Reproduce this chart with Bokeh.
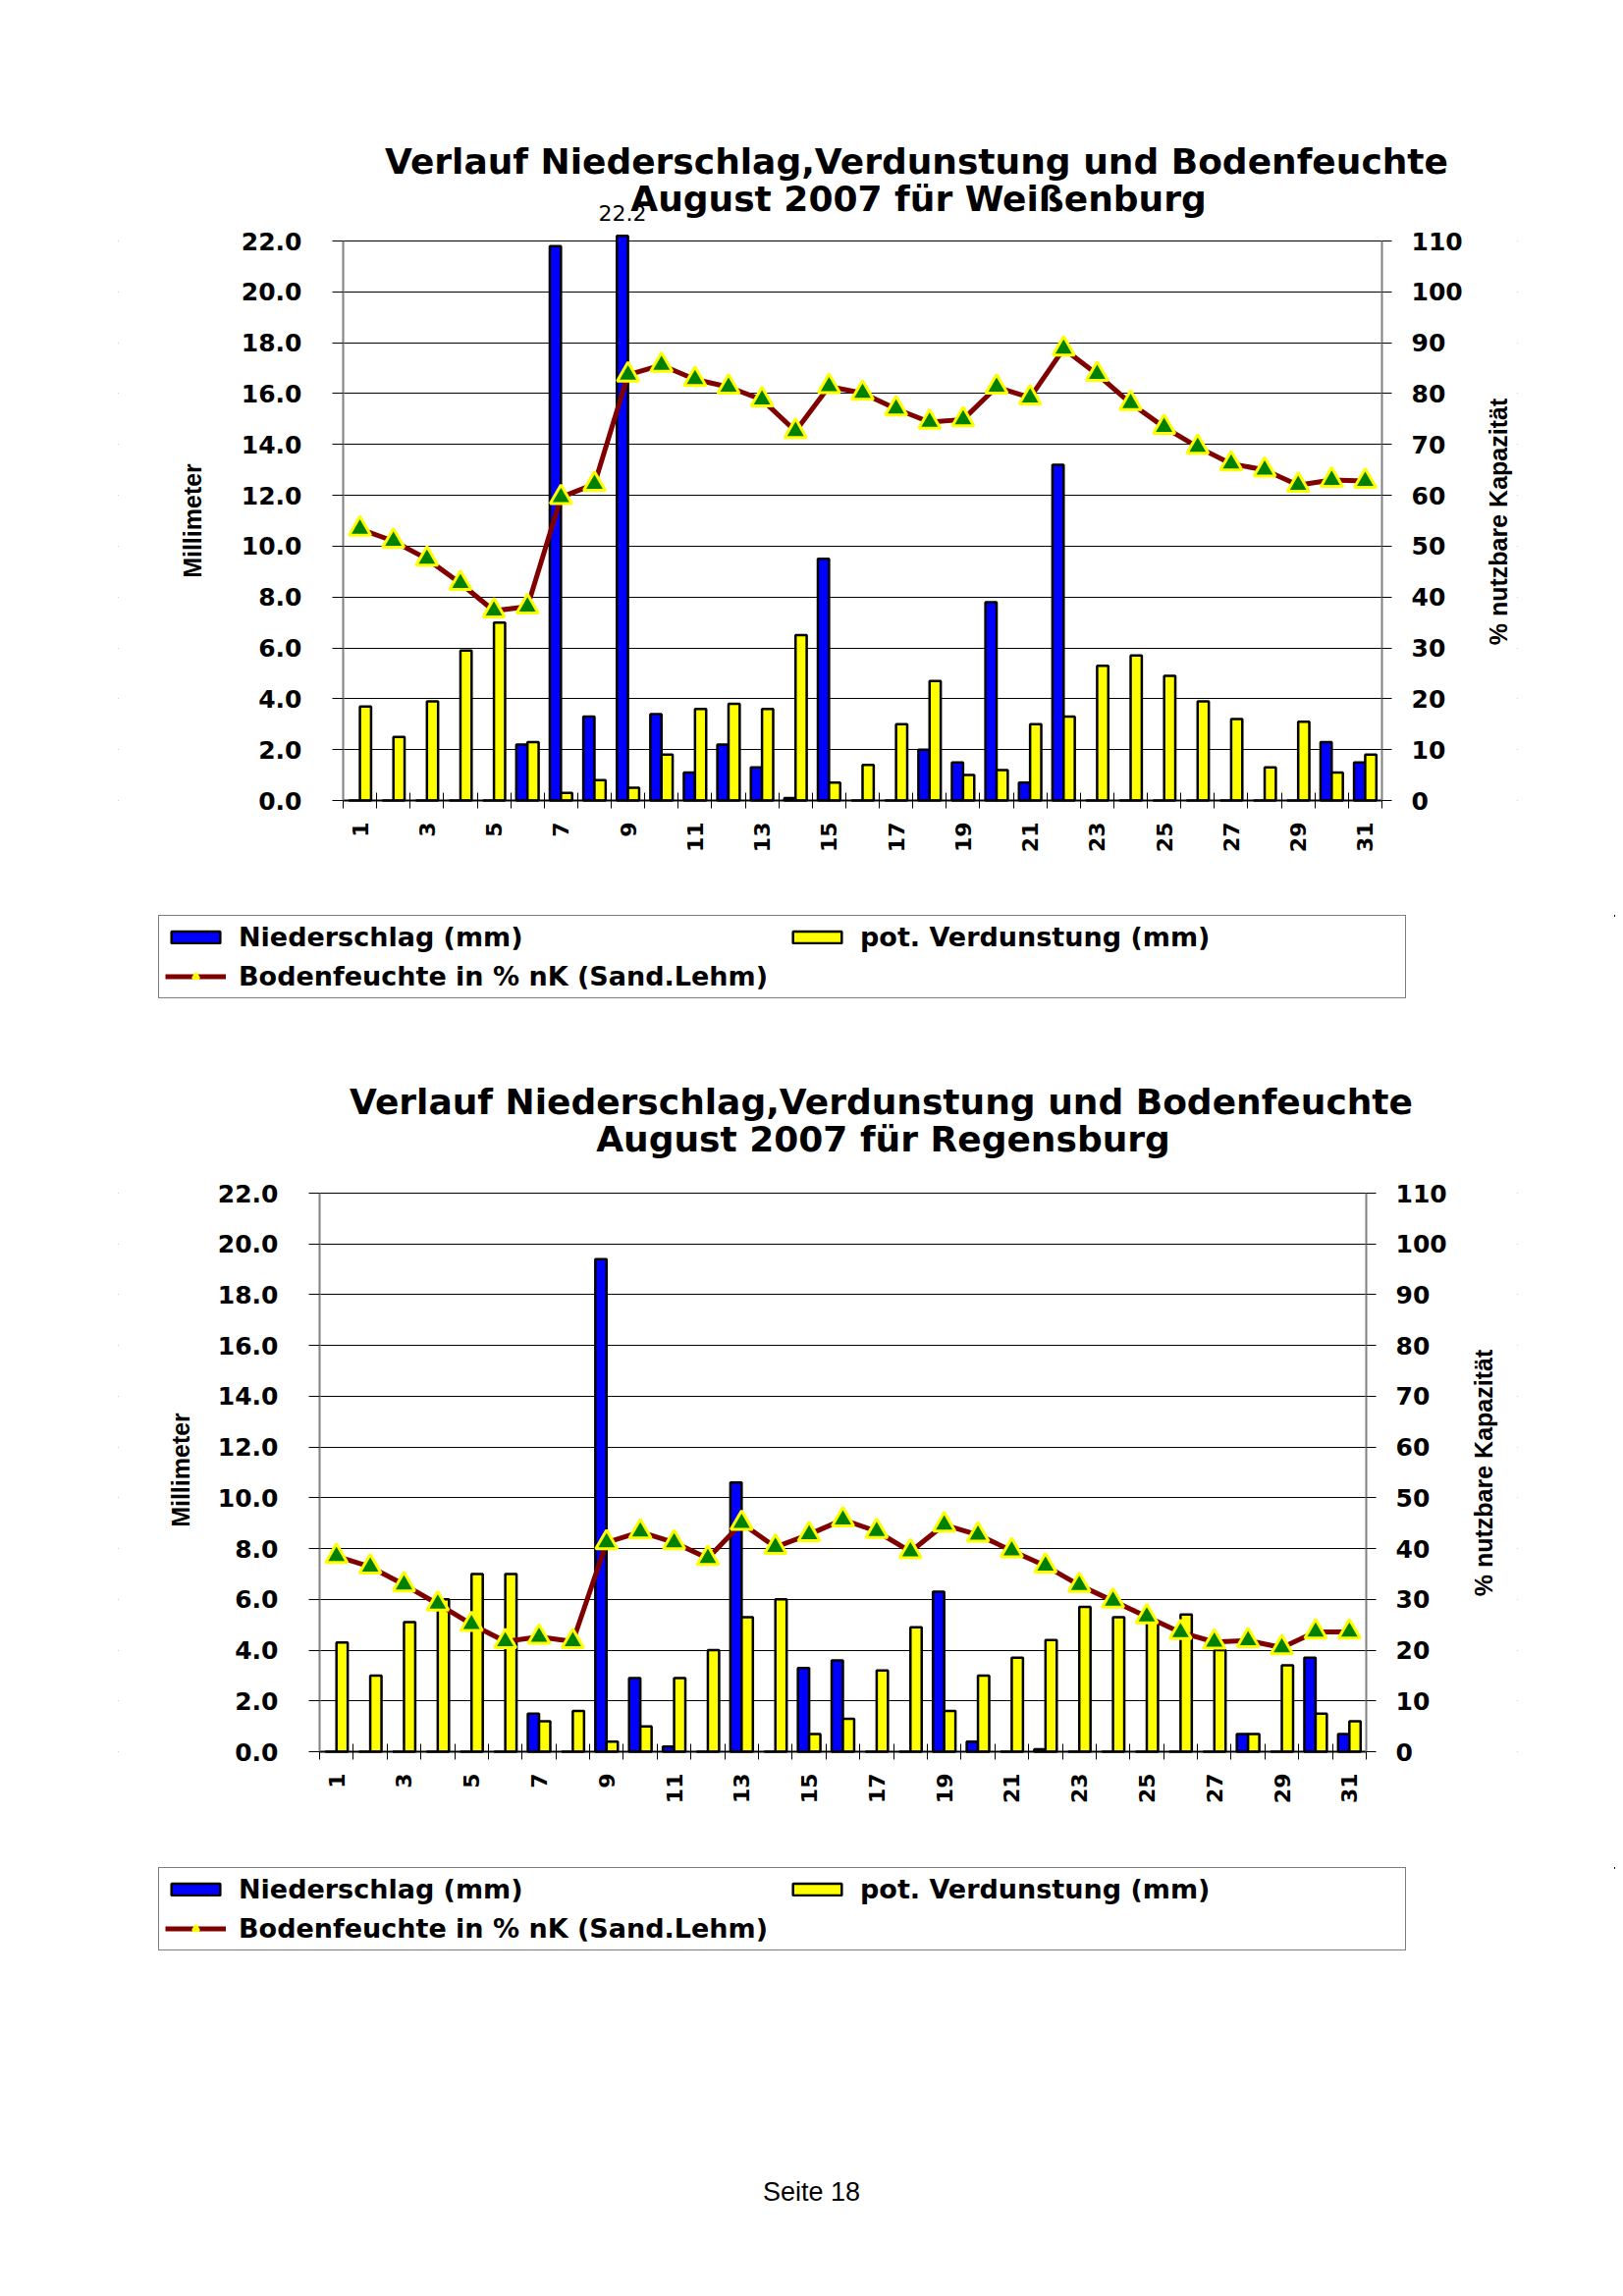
import math
from bokeh.plotting import figure
from bokeh.models import (Range1d, LinearAxis, FixedTicker, PrintfTickFormatter, Label,
                          Legend, LegendItem, ColumnDataSource, BoxAnnotation)
from bokeh.transform import dodge
from bokeh.embed import file_html
from bokeh.resources import INLINE

# ---------------- data ----------------
days = list(range(1, 32))
x_tick_days = [d for d in days if d % 2 == 1]
mm_ticks = [0, 2, 4, 6, 8, 10, 12, 14, 16, 18, 20, 22]
pct_ticks = [0, 10, 20, 30, 40, 50, 60, 70, 80, 90, 100, 110]

title_line1 = "Verlauf Niederschlag,Verdunstung und Bodenfeuchte"
wb_title2 = "August 2007 für Weißenburg"
rg_title2 = "August 2007 für Regensburg"
left_label = "Millimeter"
right_label = "% nutzbare Kapazität"
lab_nieder = "Niederschlag (mm)"
lab_verd = "pot. Verdunstung (mm)"
lab_boden = "Bodenfeuchte in % nK (Sand.Lehm)"
footer = "Seite 18"

wb_nieder = [0, 0, 0, 0, 0, 2.2, 21.8, 3.3, 22.2, 3.4, 1.1, 2.2, 1.3, 0.1, 9.5, 0,
             0, 2.0, 1.5, 7.8, 0.7, 13.2, 0, 0, 0, 0, 0, 0, 0, 2.3, 1.5]
wb_verd = [3.7, 2.5, 3.9, 5.9, 7.0, 2.3, 0.3, 0.8, 0.5, 1.8, 3.6, 3.8, 3.6, 6.5, 0.7, 1.4,
           3.0, 4.7, 1.0, 1.2, 3.0, 3.3, 5.3, 5.7, 4.9, 3.9, 3.2, 1.3, 3.1, 1.1, 1.8]
wb_boden = [53.4, 51.0, 47.5, 42.7, 37.3, 38.1, 59.6, 62.2, 83.7, 85.6, 82.8, 81.3, 78.8,
            72.6, 81.4, 80.1, 77.0, 74.4, 74.9, 81.3, 79.2, 88.8, 83.8, 78.1, 73.4, 69.5,
            66.2, 65.0, 62.0, 63.0, 62.8]

rg_nieder = [0, 0, 0, 0, 0, 0, 1.5, 0, 19.4, 2.9, 0.2, 0, 10.6, 0, 3.3, 3.6,
             0, 0, 6.3, 0.4, 0, 0.1, 0, 0, 0, 0, 0, 0.7, 0, 3.7, 0.7]
rg_verd = [4.3, 3.0, 5.1, 6.0, 7.0, 7.0, 1.2, 1.6, 0.4, 1.0, 2.9, 4.0, 5.3, 6.0, 0.7, 1.3,
           3.2, 4.9, 1.6, 3.0, 3.7, 4.4, 5.7, 5.3, 5.1, 5.4, 4.0, 0.7, 3.4, 1.5, 1.2]
rg_boden = [38.5, 36.4, 32.9, 29.1, 25.1, 21.7, 22.6, 21.7, 41.2, 43.3, 41.2, 38.1, 45.0,
            40.3, 42.8, 45.7, 43.4, 39.4, 44.7, 42.7, 39.6, 36.6, 32.8, 29.7, 26.6, 23.5,
            21.6, 21.9, 20.5, 23.6, 23.6]

BOLD_WIDE = "DejaVu Sans"
ARIAL = "Liberation Sans"
PAGE_W = 1645
X0, X1 = 0.5, 31.5
FRAME_L, FRAME_R = 120, 1545   # chart frames also hold axis numbers and axis titles

BAR_N = dict(fill_color="#0000FF", line_color="black", line_width=2.5)
BAR_V = dict(fill_color="#FFFF00", line_color="black", line_width=2.5)
LINE_B = dict(line_color="#800000", line_width=5)
MARK_B = dict(marker="triangle", size=22, fill_color="#008000", line_color="#FFFF00", line_width=3)


def chart_source(nieder, verd, boden):
    return ColumnDataSource(dict(day=days, nieder=nieder, verd=verd, boden=boden))


def strip(top, bottom):
    """A text-only strip of the page; its frame is the whole strip (1 px = 1 data unit)."""
    h = bottom - top
    return figure(width=PAGE_W, height=h, x_range=Range1d(0, PAGE_W), y_range=Range1d(0, h),
                  x_axis_type=None, y_axis_type=None, min_border=0, outline_line_color=None,
                  output_backend="svg", toolbar_location=None, tools="",
                  background_fill_color="white", border_fill_color="white")


def add_text(d, bottom, txt, px, py, **st):
    d.add_layout(Label(x=px, y=bottom - py, text=txt, **st))


TITLE_STYLE = dict(text_align="center", text_baseline="middle", text_font=BOLD_WIDE,
                   text_font_style="bold", text_font_size="36px", text_color="black")


def title_strip(top, bottom, line2, pos1, pos2, nieder=None, g=None):
    d = strip(top, bottom)
    add_text(d, bottom, title_line1, pos1[0], pos1[1], **TITLE_STYLE)
    add_text(d, bottom, line2, pos2[0], pos2[1], **TITLE_STYLE)
    if nieder is not None:
        ymax = mm_ticks[-1]
        for dd, v in zip(days, nieder):
            if v > ymax:  # data label for a bar that runs past the axis maximum
                px = g["frame_left"] + (dd - 1 / 6 - X0) / (X1 - X0) * g["frame_w"]
                add_text(d, bottom, "%.1f" % v, px, g["frame_top"] - 29,
                         text_align="center", text_baseline="middle",
                         text_font=BOLD_WIDE, text_font_size="22px", text_color="black")
    return d


def legend_strip(top, bottom, src, box_left, box_bottom, footer_pos=None):
    d = strip(top, bottom)
    # legend proxies: same styles as the chart, drawn on ranges that lie outside this strip
    d.extra_x_ranges = {"off": Range1d(-3000, -2000)}
    d.extra_y_ranges = {"off": Range1d(-3000, -2000)}
    off = dict(source=src, x_range_name="off", y_range_name="off")
    rn = d.vbar(x="day", top="nieder", width=1 / 3, **off, **BAR_N)
    rv = d.vbar(x="day", top="verd", width=1 / 3, **off, **BAR_V)
    rl = d.line(x="day", y="boden", **off, **LINE_B)
    rs = d.scatter(x="day", y="boden", **off, **MARK_B)
    legend = Legend(items=[LegendItem(label=lab_nieder, renderers=[rn]),
                           LegendItem(label=lab_boden, renderers=[rl, rs]),
                           LegendItem(label=lab_verd, renderers=[rv])],
                    location=(box_left, bottom - box_bottom), orientation="vertical", nrows=2,
                    border_line_color="black", border_line_width=1,
                    background_fill_color="white", background_fill_alpha=1.0,
                    padding=6, spacing=9, margin=0,
                    glyph_width=62, glyph_height=15, label_standoff=13,
                    label_width=549, label_height=28,
                    label_text_font=BOLD_WIDE, label_text_font_style="bold",
                    label_text_font_size="27px", label_text_color="black",
                    label_text_baseline="middle")
    d.add_layout(legend)
    if footer_pos:
        add_text(d, bottom, footer, footer_pos[0], footer_pos[1], text_align="center",
                 text_baseline="middle", text_font=ARIAL, text_font_size="27px",
                 text_color="black")
    return d


def make_chart(src, g):
    # g: plot-area geometry in page pixels
    fl, ft, fw, fh = g["frame_left"], g["frame_top"], g["frame_w"], g["frame_h"]
    fb = ft + fh
    top_ext, bot_ext = g["fig_top"], g["frame_bottom_ext"]
    dx = (X1 - X0) / fw
    dy = mm_ticks[-1] / fh
    ratio = pct_ticks[-1] / mm_ticks[-1]
    y0 = -(bot_ext - fb) * dy
    y1 = mm_ticks[-1] + (ft - top_ext) * dy
    p = figure(frame_width=FRAME_R - FRAME_L, frame_height=bot_ext - top_ext,
               min_border_left=FRAME_L, min_border_right=PAGE_W - FRAME_R,
               min_border_top=0, min_border_bottom=g["fig_bottom"] - bot_ext,
               x_range=Range1d(X0 - (fl - FRAME_L) * dx, X1 + (FRAME_R - fl - fw) * dx),
               y_range=Range1d(y0, y1),
               output_backend="svg", toolbar_location=None, tools="",
               background_fill_color="white", border_fill_color="white")
    p.extra_y_ranges = {"pct": Range1d(y0 * ratio, y1 * ratio)}
    p.outline_line_color = None

    p.xgrid.grid_line_color = None
    p.ygrid.ticker = FixedTicker(ticks=mm_ticks)
    p.ygrid.grid_line_color = "black"
    p.ygrid.grid_line_width = 1
    # blank the frame outside the plot area (under glyphs and axes)
    for kw in (dict(left=X1), dict(right=X0)):
        p.add_layout(BoxAnnotation(fill_color="white", fill_alpha=1.0, line_color=None,
                                   level="underlay", **kw))

    p.vbar(x=dodge("day", -1 / 6, range=p.x_range), top="nieder", width=1 / 3, source=src, **BAR_N)
    p.vbar(x=dodge("day", 1 / 6, range=p.x_range), top="verd", width=1 / 3, source=src, **BAR_V)
    p.line(x="day", y="boden", source=src, y_range_name="pct", **LINE_B)
    p.scatter(x="day", y="boden", source=src, y_range_name="pct", **MARK_B)

    # x axis at y = 0: odd day labels, tick marks on the category boundaries
    xa = p.xaxis[0]
    xa.fixed_location = 0
    xa.bounds = (X0, X1)
    xa.ticker = FixedTicker(ticks=x_tick_days, minor_ticks=[d + 0.5 for d in range(0, 32)])
    xa.major_tick_line_color = None
    xa.major_tick_out = 0
    xa.major_tick_in = 0
    xa.minor_tick_line_color = "black"
    xa.minor_tick_in = 8
    xa.minor_tick_out = 8
    xa.major_label_orientation = math.pi / 2
    xa.major_label_standoff = 14
    xa.major_label_text_font = BOLD_WIDE
    xa.major_label_text_font_style = "bold"
    xa.major_label_text_font_size = "22px"
    xa.major_label_text_color = "black"
    xa.axis_line_color = "black"
    xa.axis_line_width = 2

    # left axis at the left edge of the plot area
    ya = p.yaxis[0]
    ya.fixed_location = X0
    ya.bounds = (0, mm_ticks[-1])
    ya.ticker = FixedTicker(ticks=mm_ticks)
    ya.formatter = PrintfTickFormatter(format="%.1f")
    ya.major_tick_out = 11
    ya.major_tick_in = 0
    ya.major_tick_line_color = "black"
    ya.minor_tick_line_color = None
    ya.axis_line_color = "#808080"
    ya.axis_line_width = 2
    ya.major_label_standoff = 31
    ya.major_label_text_font = BOLD_WIDE
    ya.major_label_text_font_style = "bold"
    ya.major_label_text_font_size = "25px"
    ya.major_label_text_color = "black"

    # right axis at the right edge of the plot area
    ra = LinearAxis(y_range_name="pct", ticker=FixedTicker(ticks=pct_ticks), fixed_location=X1,
                    bounds=(0, pct_ticks[-1]))
    ra.major_tick_out = 10
    ra.major_tick_in = 0
    ra.major_tick_line_color = "black"
    ra.minor_tick_line_color = None
    ra.axis_line_color = "#808080"
    ra.axis_line_width = 2
    ra.major_label_standoff = 20
    ra.major_label_text_font = BOLD_WIDE
    ra.major_label_text_font_style = "bold"
    ra.major_label_text_font_size = "25px"
    ra.major_label_text_color = "black"
    p.add_layout(ra, "right")

    # axis titles, both reading bottom-to-top, centred on the plot height
    for txt, (px, py), size in ((left_label, g["left_label"], "25px"),
                                (right_label, g["right_label"], "25px")):
        p.add_layout(Label(x=px - FRAME_L, y=bot_ext - py, x_units="screen", y_units="screen",
                           text=txt, angle=math.pi / 2, text_align="center",
                           text_baseline="middle", text_font=ARIAL, text_font_style="bold",
                           text_font_size=size, text_color="black"))
    return p


g1 = dict(frame_left=349, frame_top=245, frame_w=1058, frame_h=570,
          fig_top=229, frame_bottom_ext=872, fig_bottom=932,
          left_label=(195, 530), right_label=(1525, 531))
g2 = dict(frame_left=325, frame_top=1215, frame_w=1066, frame_h=569,
          fig_top=1195, frame_bottom_ext=1842, fig_bottom=1902,
          left_label=(183, 1497), right_label=(1510, 1500))

src1 = chart_source(wb_nieder, wb_verd, wb_boden)
src2 = chart_source(rg_nieder, rg_verd, rg_boden)

d1 = title_strip(0, 229, wb_title2, (933, 164), (935, 202), wb_nieder, g1)
p1 = make_chart(src1, g1)
l1 = legend_strip(932, 1060, src1, 161, 1017)
d2 = title_strip(1060, 1195, rg_title2, (897, 1122), (899, 1160), rg_nieder, g2)
p2 = make_chart(src2, g2)
l2 = legend_strip(1902, 2290, src2, 161, 1987, footer_pos=(826, 2232))

open("out.html", "w").write(file_html([d1, p1, l1, d2, p2, l2], INLINE))
